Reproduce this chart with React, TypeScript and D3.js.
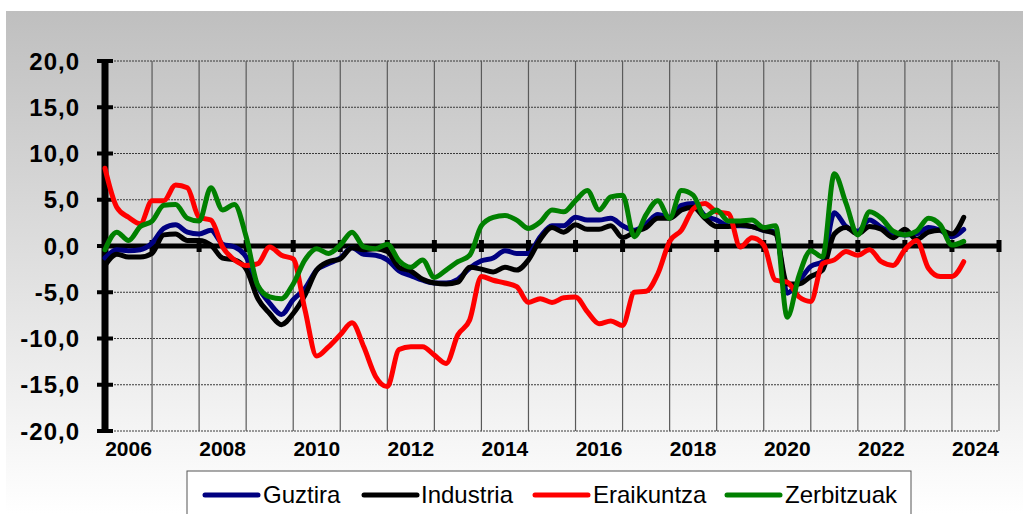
import React from "react";
import * as d3 from "d3";

// Quarterly readings, starting Q1 2006
const guztira = [
  -1.3, -0.4, -0.5, -0.4, 0.3, 1.9, 2.3, 1.5, 1.3, 1.7, 0.2, -0.1, -1.2, -4.4, -6.2, -7.4,
  -5.8, -4.6, -2.6, -1.9, -1.3, -0.2, -0.9, -1.0, -1.5, -2.7, -3.2, -3.7, -4.0, -4.0, -3.6, -2.4,
  -1.6, -1.3, -0.5, -0.8, -0.8, 1.0, 2.2, 2.2, 3.1, 2.8, 2.8, 3.0, 2.2, 1.7, 2.4, 3.4,
  3.1, 4.4, 4.6, 3.3, 2.8, 2.2, 2.2, 2.1, 1.7, 1.5, -5.1, -3.8, -2.2, -1.7, 3.6, 2.1,
  1.6, 2.8, 2.0, 1.4, 1.2, 1.3, 2.0, 1.7, 1.0, 1.8,
];
const industria = [
  -2.1, -0.9, -1.2, -1.2, -0.8, 1.2, 1.3, 0.6, 0.6, 0.1, -1.3, -1.5, -2.5, -5.7, -7.3, -8.5,
  -7.3, -5.3, -2.6, -1.7, -1.4, -0.2, -0.4, -0.3, -0.6, -2.3, -2.7, -3.6, -4.0, -4.1, -3.9, -2.3,
  -2.5, -2.8, -2.3, -2.6, -1.5, 0.7, 2.0, 1.5, 2.3, 1.8, 1.8, 2.2, 0.9, 1.5, 2.0, 3.0,
  3.0, 3.9, 4.2, 3.0, 2.1, 2.1, 2.3, 2.1, 1.7, 1.3, -4.1, -4.1, -3.3, -2.6, 1.3, 2.0,
  1.3, 2.1, 1.8, 0.9, 1.8, 0.7, 1.5, 1.7, 1.3, 3.1,
];
const eraikuntza = [
  8.4, 4.2, 3.1, 2.4, 4.9, 4.9, 6.6, 6.3, 3.1, 2.8, -0.1, -1.5, -2.1, -1.9, -0.1, -1.0,
  -1.4, -6.9, -11.9, -10.9, -9.6, -8.3, -10.9, -14.1, -15.2, -11.2, -10.9, -10.9, -11.8, -12.7, -9.6, -8.0,
  -3.3, -3.7, -4.0, -4.4, -6.1, -5.7, -6.1, -5.6, -5.5, -7.1, -8.4, -8.1, -8.6, -5.0, -4.9, -3.0,
  0.5, 1.7, 4.0, 4.6, 3.7, 3.5, -0.1, 0.9, 0.1, -3.7, -3.9, -5.5, -6.0, -1.9, -1.5, -0.6,
  -1.0, -0.4, -1.7, -2.1, -0.4, 0.6, -2.4, -3.3, -3.3, -1.7,
];
const zerbitzuak = [
  -0.4, 1.5, 0.6, 2.1, 2.7, 4.4, 4.5, 3.0, 2.7, 6.3, 3.9, 4.5, 1.0, -4.3, -5.5, -5.7,
  -4.1, -1.5, -0.3, -0.8, 0.1, 1.5, -0.1, -0.3, 0.2, -1.6, -2.3, -1.5, -3.4, -2.6, -1.7, -1.0,
  2.2, 3.1, 3.3, 2.8, 1.9, 2.6, 3.9, 3.7, 4.9, 6.0, 3.9, 5.3, 5.5, 1.0, 3.4, 4.9,
  3.0, 6.0, 5.5, 3.2, 3.9, 2.7, 2.7, 2.8, 2.0, 2.2, -7.7, -3.2, -0.5, -1.2, 7.8, 4.6,
  1.2, 3.7, 3.0, 1.6, 1.2, 1.6, 3.0, 2.3, 0.1, 0.5,
];

const yearLabels = ["2006", "2008", "2010", "2012", "2014", "2016", "2018", "2020", "2022", "2024"];
const yTicks = [20, 15, 10, 5, 0, -5, -10, -15, -20];
const seriesNames = ["Guztira", "Industria", "Eraikuntza", "Zerbitzuak"];
const seriesColors = ["#000080", "#000000", "#ff0000", "#008000"];

const W = 1023;
const H = 514;
const PL = 105;
const PR = 999;
const PT = 61;
const PB = 431;

export default function App() {
  const x = d3.scaleLinear().domain([2006, 2025]).range([PL, PR]);
  const y = d3.scaleLinear().domain([-20, 20]).range([PB, PT]);
  const allSeries = [guztira, industria, eraikuntza, zerbitzuak];
  const line = d3
    .line<number>()
    .x((_, i) => x(2006 + i / 4))
    .y((d) => y(d))
    .curve(d3.curveMonotoneX);

  const yearBounds = d3.range(2007, 2026);
  const fmt = (v: number) => d3.format(".1f")(v).replace(".", ",").replace("−", "-");

  const legendItems = [
    { lx: 205, tx: 263 },
    { lx: 364, tx: 421 },
    { lx: 535, tx: 593 },
    { lx: 727, tx: 785 },
  ];

  return (
    <svg
      width={W}
      height={H}
      style={{ position: "absolute", left: 0, top: 0, fontFamily: "Arial, 'Liberation Sans', sans-serif" }}
    >
      <defs>
        <linearGradient id="bg" x1="0" y1="0" x2="0" y2="1">
          <stop offset="0" stopColor="#bfbfbf" />
          <stop offset="1" stopColor="#ffffff" />
        </linearGradient>
      </defs>
      <rect x={0} y={0} width={W} height={H} fill="#ffffff" />
      <rect x={6} y={11} width={W - 6} height={H - 11} fill="url(#bg)" />

      {/* horizontal dashed gridlines */}
      {yTicks.map((t) => (
        <line
          key={"h" + t}
          x1={PL}
          x2={PR}
          y1={y(t)}
          y2={y(t)}
          stroke="#3a3a3a"
          strokeWidth={1}
          strokeDasharray="2,1"
        />
      ))}
      {/* vertical gridlines */}
      {yearBounds.map((yr) => (
        <line
          key={"v" + yr}
          x1={x(yr)}
          x2={x(yr)}
          y1={PT}
          y2={PB}
          stroke="#5a5a5a"
          strokeWidth={1.2}
        />
      ))}

      {/* zero line with ticks */}
      <line x1={PL} x2={PR + 1} y1={y(0)} y2={y(0)} stroke="#000" strokeWidth={5} />
      {yearBounds.map((yr) => (
        <rect key={"zt" + yr} x={x(yr) - 2.5} y={y(0) - 6} width={5} height={12} fill="#000" />
      ))}

      {/* y axis */}
      <line x1={PL} x2={PL} y1={PT - 2} y2={PB + 2} stroke="#000" strokeWidth={7} />
      {yTicks.map((t) => (
        <rect key={"yt" + t} x={PL - 8} y={y(t) - 2} width={16} height={4} fill="#000" />
      ))}
      {yTicks.map((t) => (
        <text
          key={"yl" + t}
          x={80}
          y={y(t) + 8.5}
          textAnchor="end"
          fontSize={24}
          fontWeight="bold"
          letterSpacing={1}
          fill="#000"
        >
          {fmt(t)}
        </text>
      ))}

      {/* x labels */}
      {yearLabels.map((lab) => (
        <text
          key={"xl" + lab}
          x={x(+lab + 0.5)}
          y={456}
          textAnchor="middle"
          fontSize={21}
          fontWeight="bold"
          fill="#000"
        >
          {lab}
        </text>
      ))}

      {/* series */}
      {allSeries.map((s, k) => (
        <path
          key={"s" + k}
          d={line(s) || ""}
          fill="none"
          stroke={seriesColors[k]}
          strokeWidth={5}
          strokeLinejoin="round"
          strokeLinecap="round"
        />
      ))}

      {/* legend */}
      <rect x={187} y={471} width={724} height={60} fill="#ffffff" stroke="#555" strokeWidth={1} />
      {seriesNames.map((n, k) => (
        <g key={"lg" + n}>
          <line
            x1={legendItems[k].lx}
            x2={legendItems[k].lx + 53}
            y1={495}
            y2={495}
            stroke={seriesColors[k]}
            strokeWidth={5}
            strokeLinecap="round"
          />
          <text x={legendItems[k].tx} y={503} fontSize={24} fill="#000">
            {n}
          </text>
        </g>
      ))}
    </svg>
  );
}
